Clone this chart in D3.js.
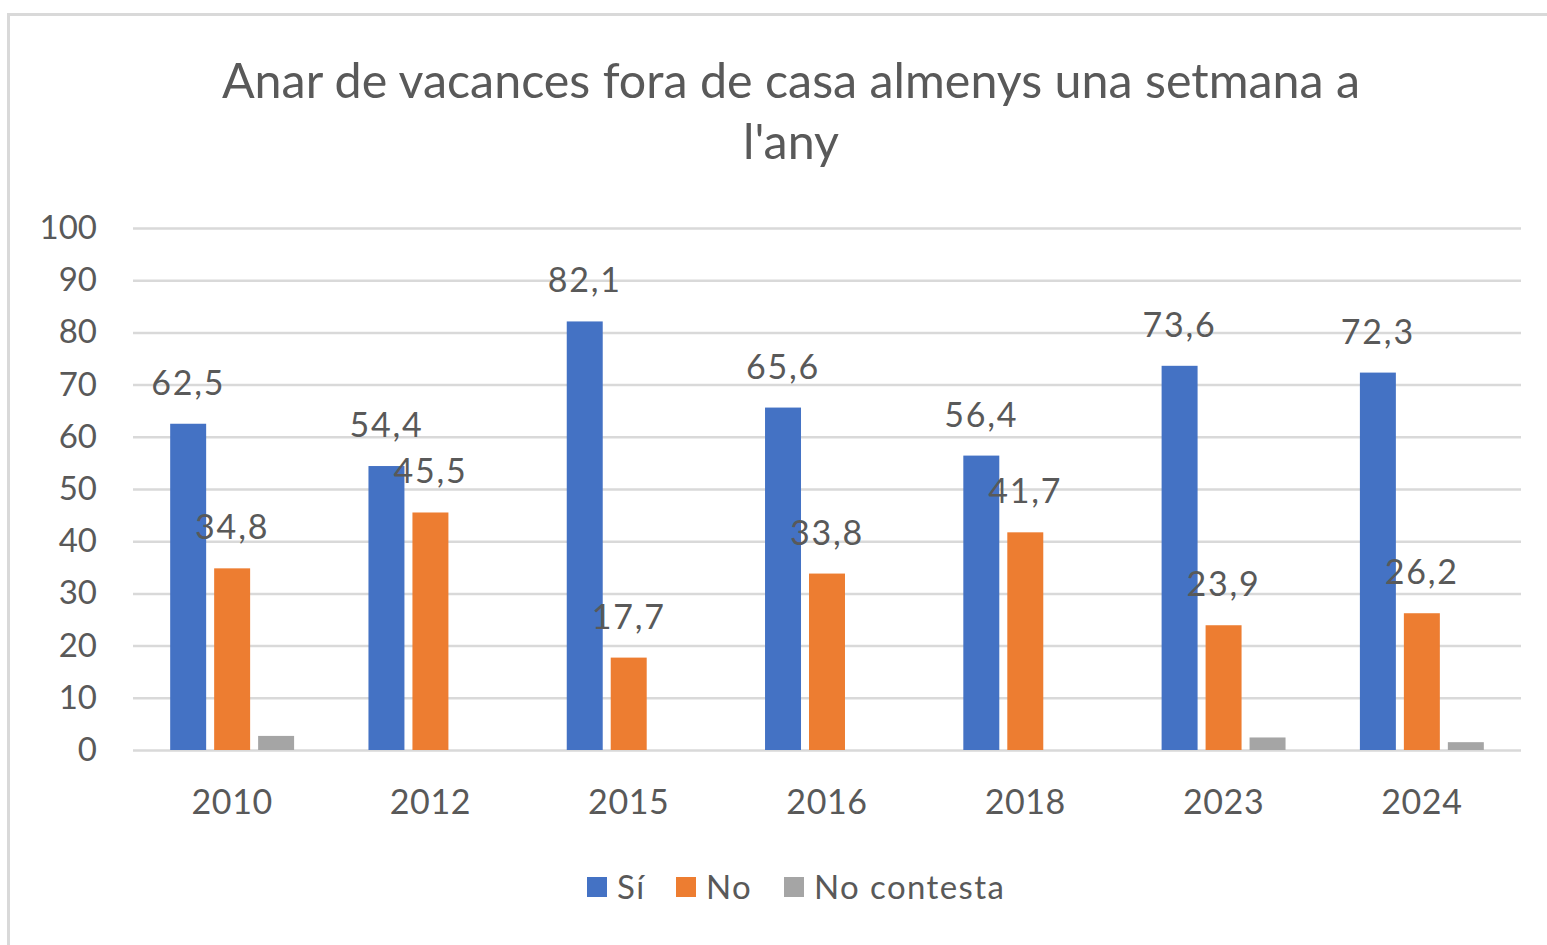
<!DOCTYPE html>
<html><head><meta charset="utf-8">
<script src="https://cdn.jsdelivr.net/npm/d3@7"></script>
<style>html,body{margin:0;padding:0;background:#fff;}svg{display:block;}</style>
</head><body>
<script>
const years = ["2010","2012","2015","2016","2018","2023","2024"];
const seriesNames = ["Sí","No","No contesta"];
const siValues = [62.5,54.4,82.1,65.6,56.4,73.6,72.3];
const noValues = [34.8,45.5,17.7,33.8,41.7,23.9,26.2];
const ncValues = [2.7,null,null,null,null,2.4,1.5];
const yTicks = [0,10,20,30,40,50,60,70,80,90,100];
const titleLines = ["Anar de vacances fora de casa almenys una setmana a","l'any"];
const colors = ["#4472C4","#ED7D31","#A5A5A5"];

const W=1547,H=945;
const svg=d3.select("body").append("svg").attr("width",W).attr("height",H);
const font="Lato, 'Open Sans', sans-serif";
const txt="#595959";

svg.append("rect").attr("x",8.5).attr("y",14.5).attr("width",W+20).attr("height",H+20)
  .attr("fill","#fff").attr("stroke","#D9D9D9").attr("stroke-width",3);

const t=svg.append("text").attr("text-anchor","middle").attr("fill",txt)
  .attr("font-family",font).attr("font-size",48.4);
titleLines.forEach((l,i)=>t.append("tspan").attr("x",791).attr("y",98+i*61).text(l));

const y=d3.scaleLinear().domain([0,100]).range([750,228]);
const x0=d3.scaleBand().domain(years).range([133,1521]).paddingInner(0.375).paddingOuter(0.1875);
const x1=d3.scaleBand().domain(seriesNames).range([0,x0.bandwidth()]).paddingInner(0.182);

const gy=svg.append("g").attr("transform","translate(133,0)")
  .call(d3.axisLeft(y).tickValues(yTicks).tickSize(-1388).tickPadding(36));
gy.select(".domain").remove();
gy.selectAll(".tick line").attr("stroke","#D9D9D9").attr("stroke-width",2.5);
gy.selectAll(".tick text").attr("fill",txt).attr("font-family",font).attr("font-size",33);

const data=years.map((yr,i)=>({yr,vals:[siValues[i],noValues[i],ncValues[i]]}));
const g=svg.append("g");
data.forEach(d=>{
  d.vals.forEach((v,j)=>{
    if(v==null) return;
    const bx=x0(d.yr)+x1(seriesNames[j]);
    g.append("rect").attr("x",bx).attr("y",y(v)).attr("width",x1.bandwidth())
      .attr("height",y(0)-y(v)).attr("fill",colors[j]);
  });
});
data.forEach(d=>{
  [0,1].forEach(j=>{
    const v=d.vals[j];
    const bx=x0(d.yr)+x1(seriesNames[j])+x1.bandwidth()/2;
    svg.append("text").attr("x",bx).attr("y",y(v)-29).attr("text-anchor","middle")
      .attr("fill",txt).attr("font-family",font).attr("font-size",34).attr("letter-spacing",1.8)
      .text(String(v).replace(".",","));
  });
});

const gx=svg.append("g").attr("transform","translate(0,750)")
  .call(d3.axisBottom(x0).tickSize(0).tickPadding(40));
gx.select(".domain").remove();
gx.selectAll(".tick text").attr("fill",txt).attr("font-family",font).attr("font-size",34).attr("letter-spacing",0.6);

const legX=[587,676,784];
seriesNames.forEach((s,i)=>{
  svg.append("rect").attr("x",legX[i]).attr("y",877).attr("width",20).attr("height",20).attr("fill",colors[i]);
  svg.append("text").attr("x",legX[i]+30).attr("y",899).attr("fill",txt)
    .attr("font-family",font).attr("font-size",33).attr("letter-spacing",1.4).text(s);
});
</script>
</body></html>
